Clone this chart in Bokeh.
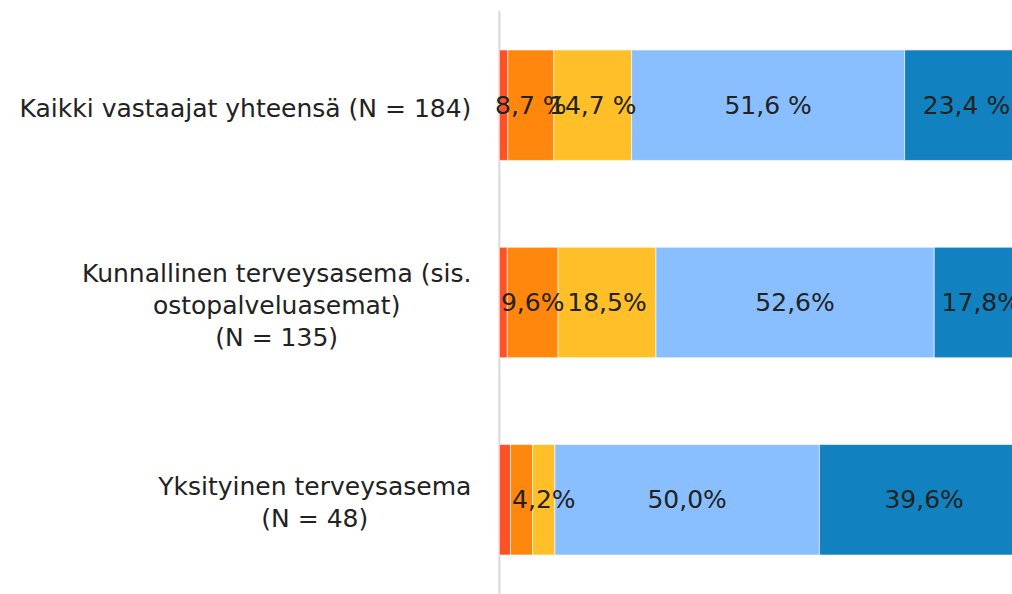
from bokeh.plotting import figure
from bokeh.models import FactorRange, Range1d, ColumnDataSource, Span
from bokeh.core.properties import value
from bokeh.embed import file_html
from bokeh.resources import INLINE

# ---- data ----
categories = [
    "Kaikki vastaajat yhteensä (N = 184)",
    "Kunnallinen terveysasema (sis.\nostopalveluasemat)\n(N = 135)",
    "Yksityinen terveysasema\n(N = 48)",
]
series_names = ["Erittäin huono", "Huono", "Kohtalainen", "Hyvä", "Erittäin hyvä"]
red_vals = [1.6, 1.5, 2.1]
orange_vals = [8.7, 9.6, 4.2]
yellow_vals = [14.7, 18.5, 4.2]
lightblue_vals = [51.6, 52.6, 50.0]
darkblue_vals = [23.4, 17.8, 39.6]
label_suffix = [" %", "%", "%"]
# labels hidden in the original (too narrow / overlapping): (category index, series index)
hidden_labels = [(0, 0), (1, 0), (2, 0), (2, 1)]

colors = ["#FF5126", "#FF870D", "#FEBF28", "#89BFFE", "#1182BF"]
FONT = "DejaVu Sans"

series_vals = [red_vals, orange_vals, yellow_vals, lightblue_vals, darkblue_vals]

data = {"cat": categories, "zero": [0] * len(categories)}
for name, vals in zip(series_names, series_vals):
    data[name] = vals
source = ColumnDataSource(data)

factors = list(reversed(categories))
p = figure(
    width=1012, height=594,
    y_range=FactorRange(factors=factors, range_padding=-0.02,
                        range_padding_units="absolute"),
    x_range=Range1d(-94.3, 97),
    output_backend="svg", toolbar_location=None,
    min_border_left=0, min_border_right=0, min_border_top=10, min_border_bottom=0,
)

# category axis line at 0 % (drawn beneath bars and texts)
p.add_layout(Span(location=0, dimension="height", line_color="#d9d9d9", line_width=2,
                  level="underlay"))

p.hbar_stack(series_names, y="cat", height=0.56, color=colors, source=source,
             line_color="white", line_width=1, line_alpha=0.6)

# category labels: right-aligned blocks with centred lines, left of the axis
p.text(x="zero", y="cat", text="cat", source=source, x_offset=-28, y_offset=3,
       anchor="center_right", text_align="center", text_baseline="middle",
       text_font=value(FONT), text_font_size="25px", text_color="#222222",
       text_line_height=1.1)

# segment labels
lx, ly, lt = [], [], []
for ci, cat in enumerate(categories):
    left = 0.0
    for si, vals in enumerate(series_vals):
        v = vals[ci]
        if (ci, si) not in hidden_labels:
            lx.append(left + v / 2)
            ly.append(cat)
            lt.append(f"{v:.1f}".replace(".", ",") + label_suffix[ci])
        left += v
p.text(x=lx, y=ly, text=lt, text_align="center", text_baseline="middle",
       text_font=value(FONT), text_font_size="25px", text_color="#222222")

p.xaxis.visible = False
p.yaxis.visible = False
p.xgrid.visible = False
p.ygrid.visible = False
p.outline_line_color = None

open("out.html", "w").write(file_html(p, INLINE))
